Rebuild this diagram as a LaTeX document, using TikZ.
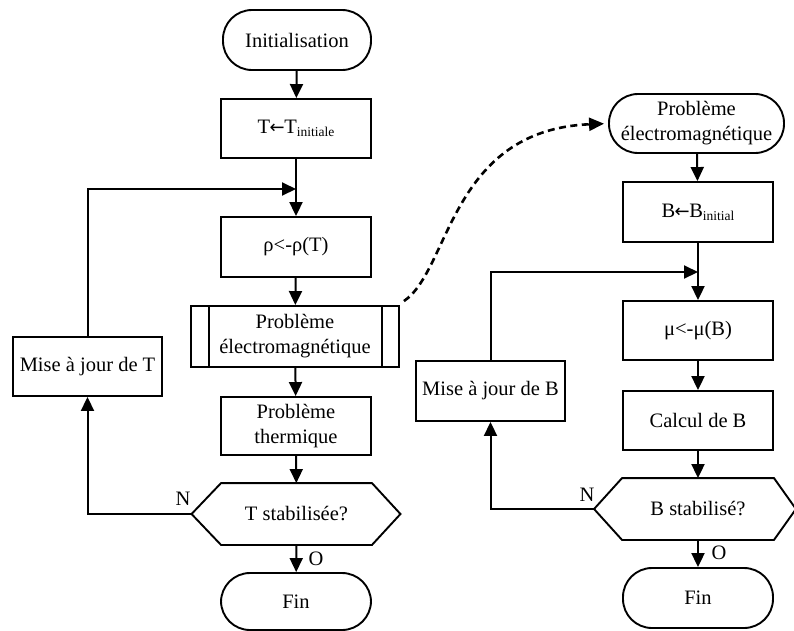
\documentclass[tikz,border=0pt]{standalone}
\usepackage{fontspec}
\setmainfont{Liberation Serif}
\newfontfamily\arrowfont{DejaVu Sans}
\usetikzlibrary{arrows.meta,calc}
\newcommand\diagfont{\fontsize{20.5}{25}\selectfont}
\newcommand\subtxt[1]{\raisebox{-3pt}{\fontsize{13.5}{14}\selectfont #1}}
\newcommand\larr{\kern-0.5pt{\arrowfont\fontsize{18}{18}\selectfont ←}\kern-0.5pt}
\tikzset{
  box/.style={draw, line width=1.9pt, minimum width=150pt, minimum height=59pt,
    inner sep=0pt, align=center, font=\diagfont},
  term/.style={box, rounded corners=29pt},
  plain/.style={inner sep=0pt, font=\diagfont},
  arr/.style={-{Triangle[length=14pt,width=13pt]}, line width=2pt},
  hexline/.style={line width=1.9pt},
  dasharr/.style={-{Triangle[length=15pt,width=13pt]}, line width=2.6pt, dash pattern=on 7pt off 4.5pt}
}
\begin{document}
\begin{tikzpicture}[x=1pt,y=-1pt]
\useasboundingbox (0,0) rectangle (794,630);
% ---------- left column ----------
\node[term, minimum width=148pt, minimum height=60pt] (init) at (297,40) {Initialisation};
\node[box] (tinit) at (296,128.5) {T\larr T\subtxt{initiale}};
\node[box, minimum height=60pt] (rho) at (296,247) {ρ<-ρ(T)};
\node[box, minimum width=208pt, minimum height=61pt] (pp) at (295,336.5) {Problème\\électromagnétique};
\draw[hexline] ($(pp.north west)+(19,0)$) -- ($(pp.south west)+(19,0)$);
\draw[hexline] ($(pp.north east)+(-18,0)$) -- ($(pp.south east)+(-18,0)$);
\node[box, minimum height=58pt] (therm) at (296,426) {Problème\\thermique};
\node[box, draw=none, minimum width=149pt, minimum height=60pt] (hT) at (296.5,514) {T stabilisée?};
\coordinate (hTw) at ($(hT.west)+(-29.5,0)$);
\coordinate (hTe) at ($(hT.east)+(28.5,0)$);
\draw[hexline] (hT.north west) -- (hT.north east) -- (hTe) -- (hT.south east) -- (hT.south west) -- (hTw) -- cycle;
\node[term, minimum height=57pt] (finL) at (296,601.5) {Fin};
\node[box, minimum width=149pt] (majT) at (87.5,366.5) {Mise à jour de T};
\coordinate (jL) at (296,189);
\node[plain] (nL) at (183,499) {N};
\node[plain] (oL) at (316,559) {O};

\draw[arr] (init) -- (tinit);
\draw[arr] (tinit) -- (rho);
\draw[arr] (rho) -- (pp);
\draw[arr] (pp) -- (therm);
\draw[arr] (therm) -- (hT);
\draw[arr] (hT) -- (finL);
\draw[arr] (hTw) -| (majT.south);
\draw[arr] (majT.north) |- (jL);

% ---------- right column ----------
\node[term, minimum width=175pt] (ppR) at (696.5,123.5) {Problème\\électromagnétique};
\node[box, minimum height=60pt] (binit) at (698,212) {B\larr B\subtxt{initial}};
\node[box] (mu) at (698,330.5) {μ<-μ(B)};
\node[box] (calc) at (698,420.5) {Calcul de B};
\node[box, draw=none, minimum height=60pt] (hB) at (698,509) {B stabilisé?};
\coordinate (hBw) at ($(hB.west)+(-28,0)$);
\coordinate (hBe) at ($(hB.east)+(22,0)$);
\draw[hexline] (hB.north west) -- (hB.north east) -- (hBe) -- (hB.south east) -- (hB.south west) -- (hBw) -- cycle;
\node[term, minimum height=60pt] (finR) at (698,598) {Fin};
\node[box, minimum width=149pt, minimum height=60pt] (majB) at (490.5,391) {Mise à jour de B};
\coordinate (jR) at (698,272);
\node[plain] (nR) at (587,495) {N};
\node[plain] (oR) at (719,553) {O};

\draw[arr] (ppR) -- (binit);
\draw[arr] (binit) -- (mu);
\draw[arr] (mu) -- (calc);
\draw[arr] (calc) -- (hB);
\draw[arr] (hB) -- (finR);
\draw[arr] (hBw) -| (majB.south);
\draw[arr] (majB.north) |- (jR);

% ---------- dashed link ----------
\coordinate (dStart) at ($(pp.north east)+(4,-4)$);
\draw[dasharr, shorten >=4pt] (dStart) .. controls (450,270) and (450,130) .. (ppR.west);
\end{tikzpicture}
\end{document}
